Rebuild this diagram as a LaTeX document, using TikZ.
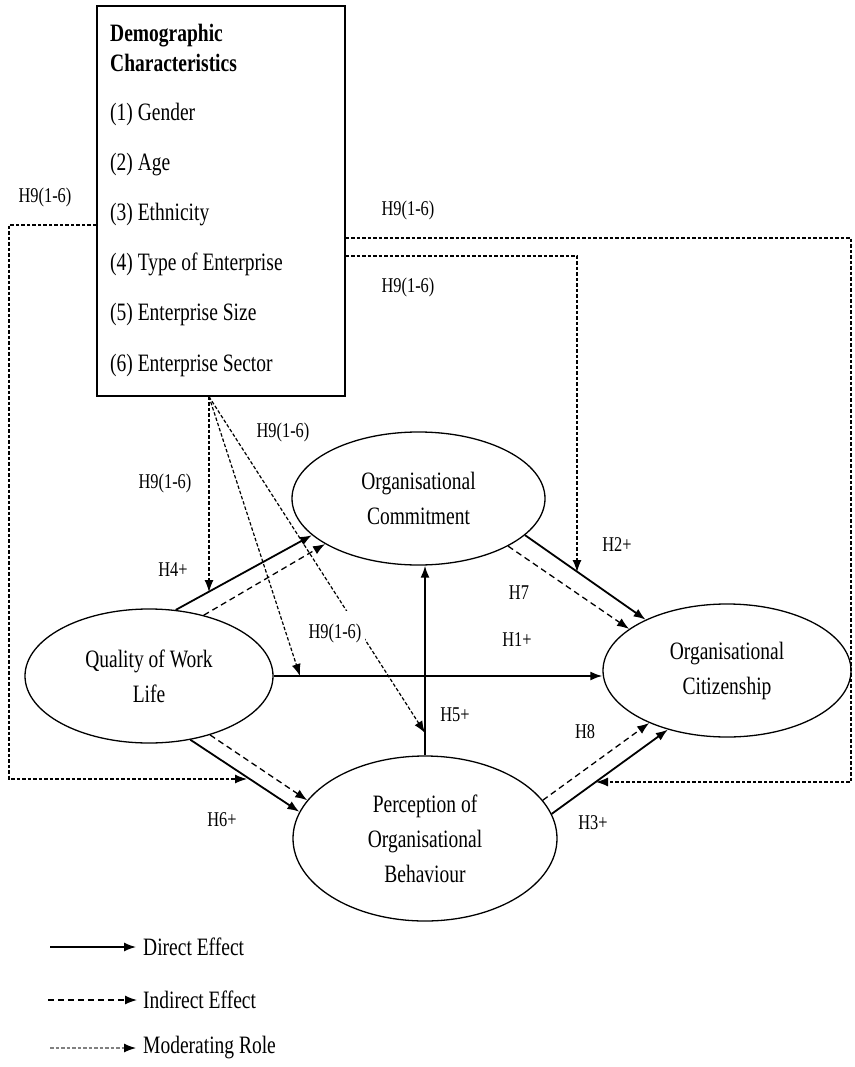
\documentclass[tikz,border=0pt]{standalone}
\usepackage{fontspec}
\setmainfont{Liberation Serif}[FakeStretch=0.78]
\usetikzlibrary{shapes.geometric,arrows.meta}

\begin{document}
\begin{tikzpicture}[x=1pt, y=-1pt,
    construct/.style={draw, ellipse, line width=1.3pt, inner sep=0pt, align=center, font=\fontsize{25}{35}\selectfont},
    boxtext/.style={anchor=west, inner sep=0pt, font=\fontsize{25}{30}\selectfont},
    direct/.style={line width=1.8pt, -{Latex[length=12pt,width=9pt]}},
    indirect/.style={line width=1.3pt, dash pattern=on 6pt off 4pt, -{Latex[length=12pt,width=9pt]}},
    moder/.style={line width=1.2pt, dash pattern=on 3.5pt off 2pt, -{Latex[length=12pt,width=9pt]}},
    hyp/.style={font=\fontsize{21}{25}\selectfont, inner sep=1pt}]

    \useasboundingbox (0,0) rectangle (854,1067);

    % demographic box
    \node[draw, line width=1.3pt, minimum width=248, minimum height=390, inner sep=0pt] (demo) at (221,201) {};
    \node[boxtext, align=left, font=\fontsize{25}{30}\selectfont\bfseries] (demohead) at (110,48) {Demographic\\Characteristics};
    \foreach \i/\t in {1/Gender,2/Age,3/Ethnicity,4/Type of Enterprise,5/Enterprise Size,6/Enterprise Sector}
        \node[boxtext] (item\i) at (110,{114+50.2*(\i-1)}) {(\i) \t};

    % constructs
    \node[construct, minimum width=253, minimum height=133] (oc) at (418.5,498.5) {Organisational\\Commitment};
    \node[construct, minimum width=248, minimum height=134] (qwl) at (149,676) {Quality of Work\\Life};
    \node[construct, minimum width=248, minimum height=133] (ocit) at (727,670.5) {Organisational\\Citizenship};
    \node[construct, minimum width=264, minimum height=165] (pob) at (425,838.5) {Perception of\\Organisational\\Behaviour};

    % direct and indirect effects
    \draw[direct] (qwl.68) -- (oc.199);
    \draw[indirect] (qwl.48) -- (oc.206);
    \draw[direct] (qwl.east) -- (qwl.east -| ocit.west);
    \draw[direct] (pob.north) -- (pob.north |- oc.south);
    \draw[direct] (oc.-19) -- (ocit.148);
    \draw[indirect] (oc.-28) -- (ocit.157);
    \draw[direct] (qwl.-57) -- (pob.168);
    \draw[indirect] (qwl.-44) -- (pob.162);
    \draw[direct] (pob.11) -- (ocit.225);
    \draw[indirect] (pob.18) -- (ocit.214);

    % moderating role
    \coordinate (msrc) at ([xshift=-12pt]demo.south);
    \coordinate (m4) at (209,592);
    \coordinate (m1) at (300,676);
    \coordinate (m5) at (425,733);
    \coordinate (m6) at (247,779);
    \coordinate (m3) at (596,782);
    \coordinate (m2) at (577,572);
    \draw[moder] (msrc) -- (m4);
    \draw[moder] (msrc) -- (m1);
    \draw[moder] (msrc) -- (m5);
    \draw[moder] (demo.west |- 0,225) -- (9,225) -- (9,779) -- (m6);
    \draw[moder] (demo.east |- 0,238) -- (851,238) -- (851,782) -- (m3);
    \draw[moder] (demo.east |- 0,256) -- (577,256) -- (m2);

    \node[hyp] (h9a) at (45,197) {H9(1-6)};
    \node[hyp] (h9b) at (408,210) {H9(1-6)};
    \node[hyp] (h9c) at (408,287) {H9(1-6)};
    \node[hyp] (h9d) at (165,483) {H9(1-6)};
    \node[hyp] (h9e) at (283,432) {H9(1-6)};
    \node[hyp, fill=white, inner xsep=4pt, inner ysep=12pt] (h9f) at (335,633) {H9(1-6)};

    \node[hyp] (h4) at (173,570) {H4+};
    \node[hyp] (h2) at (617,545) {H2+};
    \node[hyp] (h7) at (519,593) {H7};
    \node[hyp] (h1) at (517,640) {H1+};
    \node[hyp] (h5) at (455,715) {H5+};
    \node[hyp] (h8) at (585,732) {H8};
    \node[hyp] (h3) at (593,823) {H3+};
    \node[hyp] (h6) at (222,820) {H6+};

    % legend
    \node[boxtext] (ldirect) at (143,947) {Direct Effect};
    \node[boxtext] (lindirect) at (143,1000) {Indirect Effect};
    \node[boxtext] (lmoder) at (143,1048) {Moderating Role};
    \draw[direct, line width=1.4pt] ([xshift=-93pt]ldirect.west) -- ([xshift=-7pt]ldirect.west);
    \draw[indirect] ([xshift=-95pt]lindirect.west) -- ([xshift=-6pt]lindirect.west);
    \draw[moder, gray, -{Latex[length=12pt,width=9pt,black]}] ([xshift=-93pt]lmoder.west) -- ([xshift=-7pt]lmoder.west);

\end{tikzpicture}
\end{document}
